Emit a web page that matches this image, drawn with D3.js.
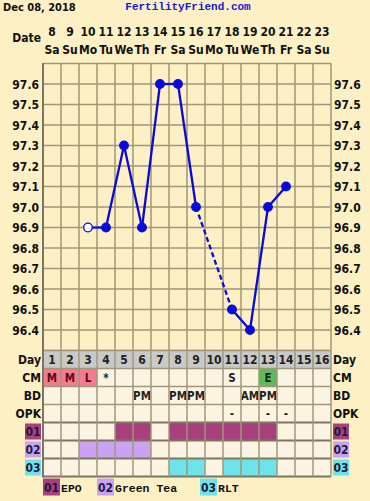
<!DOCTYPE html>
<html>
<head>
<meta charset="utf-8">
<script src="https://cdn.jsdelivr.net/npm/d3@7"></script>
<style>
  body { margin: 0; background: #fcf0c4; }
  svg { display: block; }
  text { font-family: "DejaVu Sans Condensed", "DejaVu Sans", sans-serif; font-weight: bold; }
  .mono { font-family: "Liberation Mono", "DejaVu Sans Mono", monospace; font-weight: bold; }
</style>
</head>
<body>
<div id="chart"></div>
<script>
// chart values
var chartDate = "Dec 08, 2018";
var siteName = "FertilityFriend.com";
var cycleDays = [1, 2, 3, 4, 5, 6, 7, 8, 9, 10, 11, 12, 13, 14, 15, 16];
var dates = [8, 9, 10, 11, 12, 13, 14, 15, 16, 17, 18, 19, 20, 21, 22, 23];
var weekdays = ["Sa", "Su", "Mo", "Tu", "We", "Th", "Fr", "Sa", "Su", "Mo", "Tu", "We", "Th", "Fr", "Sa", "Su"];
var temps = [null, null, 96.9, 96.9, 97.3, 96.9, 97.6, 97.6, 97.0, null, 96.5, 96.4, 97.0, 97.1, null, null];
var openDays = [3];
var tempTicks = [97.6, 97.5, 97.4, 97.3, 97.2, 97.1, 97.0, 96.9, 96.8, 96.7, 96.6, 96.5, 96.4];
var cm = ["M", "M", "L", "*", "", "", "", "", "", "", "S", "", "E", "", "", ""];
var bd = ["", "", "", "", "", "PM", "", "PM", "PM", "", "", "AM", "PM", "", "", ""];
var opk = ["", "", "", "", "", "", "", "", "", "", "-", "", "-", "-", "", ""];
var suppCodes = ["01", "02", "03"];
var suppNames = ["EPO", "Green Tea", "RLT"];
var supp01Days = [5, 6, 8, 9, 10, 11, 12, 13];
var supp02Days = [3, 4, 5, 6];
var supp03Days = [8, 9, 11, 12, 13];

var svgWidth = 370;
var svgHeight = 501;

var bg = "#fcf0c4";
var cellBg = "#fbf4e3";
var gridColor = "#a0977a";
var suppColors = ["#a8407e", "#c9a2f2", "#6ee3ea"];
var cmColors = { "M": "#f47c8e", "L": "#f47c8e", "E": "#5cbc5c" };
var fs = 12;

var svg = d3.select("#chart")
  .append("svg")
  .attr("width", svgWidth)
  .attr("height", svgHeight);

svg.append("rect")
  .attr("width", svgWidth)
  .attr("height", svgHeight)
  .attr("fill", bg);

var xScale = d3.scaleBand()
  .domain(cycleDays)
  .range([43, 331]);

var yScale = d3.scaleLinear()
  .domain([96.3, 97.7])
  .range([350.5, 63.5]);

var left = xScale.range()[0];
var right = xScale.range()[1];
var rowH = 18;
var tableTop = yScale(96.3);

// header
svg.append("text")
  .attr("x", 3)
  .attr("y", 11)
  .attr("font-size", 11)
  .attr("fill", "#111")
  .text(chartDate);

svg.append("text")
  .attr("class", "mono")
  .attr("x", 188)
  .attr("y", 10)
  .attr("text-anchor", "middle")
  .attr("font-size", 11)
  .attr("fill", "#1a1ad0")
  .text(siteName);

svg.append("text")
  .attr("x", 41)
  .attr("y", 42)
  .attr("text-anchor", "end")
  .attr("font-size", fs)
  .attr("fill", "#111")
  .text("Date");

svg.selectAll(".dateNum")
  .data(cycleDays)
  .enter()
  .append("text")
  .attr("class", "dateNum")
  .attr("x", d => xScale(d) + xScale.bandwidth() / 2)
  .attr("y", 36)
  .attr("text-anchor", "middle")
  .attr("font-size", fs)
  .attr("fill", "#111")
  .text((d, i) => dates[i]);

svg.selectAll(".wday")
  .data(cycleDays)
  .enter()
  .append("text")
  .attr("class", "wday")
  .attr("x", d => xScale(d) + xScale.bandwidth() / 2)
  .attr("y", 54)
  .attr("text-anchor", "middle")
  .attr("font-size", fs)
  .attr("fill", "#111")
  .text((d, i) => weekdays[i]);

// temperature grid
var tempGrid = svg.append("g");

tempGrid.selectAll(".hline")
  .data(d3.range(0, 15).map(i => +(96.3 + i * 0.1).toFixed(1)))
  .enter()
  .append("line")
  .attr("x1", left)
  .attr("x2", right)
  .attr("y1", d => yScale(d))
  .attr("y2", d => yScale(d))
  .attr("stroke", gridColor)
  .attr("stroke-width", 1.5);

tempGrid.selectAll(".vline")
  .data(cycleDays.slice(1))
  .enter()
  .append("line")
  .attr("x1", d => xScale(d))
  .attr("x2", d => xScale(d))
  .attr("y1", yScale(97.7))
  .attr("y2", tableTop)
  .attr("stroke", gridColor)
  .attr("stroke-width", 1.5);

tempGrid.append("line")
  .attr("x1", right)
  .attr("x2", right)
  .attr("y1", yScale(97.7))
  .attr("y2", tableTop)
  .attr("stroke", gridColor)
  .attr("stroke-width", 1.5);

svg.selectAll(".yLeft")
  .data(tempTicks)
  .enter()
  .append("text")
  .attr("x", 39)
  .attr("y", d => yScale(d) + 4.5)
  .attr("text-anchor", "end")
  .attr("font-size", fs)
  .attr("fill", "#111")
  .text(d => d.toFixed(1));

svg.selectAll(".yRight")
  .data(tempTicks)
  .enter()
  .append("text")
  .attr("x", 334)
  .attr("y", d => yScale(d) + 4.5)
  .attr("text-anchor", "start")
  .attr("font-size", fs)
  .attr("fill", "#111")
  .text(d => d.toFixed(1));

// table rows
var table = svg.append("g");
var rowLabels = ["Day", "CM", "BD", "OPK"];
var rowTexts = [cycleDays.map(String), cm, bd, opk];

rowLabels.forEach(function(label, r) {
  var y0 = tableTop + r * rowH;
  table.selectAll(".cell" + r)
    .data(cycleDays)
    .enter()
    .append("rect")
    .attr("x", d => xScale(d))
    .attr("y", y0)
    .attr("width", xScale.bandwidth())
    .attr("height", rowH)
    .attr("fill", (d, i) => {
      if (r === 0) return "#c9c9c9";
      if (r === 1 && cmColors[cm[i]]) return cmColors[cm[i]];
      return cellBg;
    });

  table.selectAll(".ctext" + r)
    .data(cycleDays)
    .enter()
    .append("text")
    .attr("x", d => xScale(d) + xScale.bandwidth() / 2)
    .attr("y", y0 + 13.5)
    .attr("text-anchor", "middle")
    .attr("font-size", r === 0 ? fs : 11.5)
    .attr("fill", (d, i) => r === 1 && (cm[i] === "M" || cm[i] === "L") ? "#5a0a1a" : "#222")
    .text((d, i) => rowTexts[r][i]);

  table.append("text")
    .attr("x", 41)
    .attr("y", y0 + 13.5)
    .attr("text-anchor", "end")
    .attr("font-size", fs)
    .attr("fill", "#111")
    .text(label);

  table.append("text")
    .attr("x", 333)
    .attr("y", y0 + 13.5)
    .attr("text-anchor", "start")
    .attr("font-size", fs)
    .attr("fill", "#111")
    .text(label);
});

// supplement rows
var suppDays = [supp01Days, supp02Days, supp03Days];
suppCodes.forEach(function(code, s) {
  var y0 = tableTop + (4 + s) * rowH;
  table.selectAll(".supp" + s)
    .data(cycleDays)
    .enter()
    .append("rect")
    .attr("x", d => xScale(d))
    .attr("y", y0)
    .attr("width", xScale.bandwidth())
    .attr("height", rowH)
    .attr("fill", d => suppDays[s].indexOf(d) >= 0 ? suppColors[s] : cellBg);

  [[25, 41], [333, 349]].forEach(function(pos) {
    table.append("rect")
      .attr("x", pos[0])
      .attr("y", y0 + 1)
      .attr("width", pos[1] - pos[0])
      .attr("height", rowH - 2)
      .attr("fill", suppColors[s]);
    table.append("text")
      .attr("x", (pos[0] + pos[1]) / 2)
      .attr("y", y0 + 13.5)
      .attr("text-anchor", "middle")
      .attr("font-size", fs)
      .attr("fill", "#1a1a40")
      .text(code);
  });
});

// table grid lines
var nRows = 7;
var tableBottom = tableTop + nRows * rowH;
table.selectAll(".th")
  .data(d3.range(0, nRows + 1))
  .enter()
  .append("line")
  .attr("x1", left)
  .attr("x2", right)
  .attr("y1", d => tableTop + d * rowH)
  .attr("y2", d => tableTop + d * rowH)
  .attr("stroke", d => d >= 4 ? "#7d7462" : gridColor)
  .attr("stroke-width", d => d >= 4 ? 2 : 1.5);

table.selectAll(".tv")
  .data(cycleDays.slice(1).concat([null]))
  .enter()
  .append("line")
  .attr("x1", d => d === null ? right : xScale(d))
  .attr("x2", d => d === null ? right : xScale(d))
  .attr("y1", tableTop)
  .attr("y2", tableBottom)
  .attr("stroke", gridColor)
  .attr("stroke-width", 1.5);

// left border
svg.append("line")
  .attr("x1", left)
  .attr("x2", left)
  .attr("y1", yScale(97.7) - 0.5)
  .attr("y2", tableBottom + 1)
  .attr("stroke", "#7d7462")
  .attr("stroke-width", 2);

// legend
var legendX = [43, 97, 200];
suppCodes.forEach(function(code, s) {
  var lx = legendX[s];
  svg.append("rect")
    .attr("x", lx)
    .attr("y", tableBottom + 2)
    .attr("width", 17)
    .attr("height", 17)
    .attr("fill", suppColors[s]);
  svg.append("text")
    .attr("x", lx + 8.5)
    .attr("y", tableBottom + 15)
    .attr("text-anchor", "middle")
    .attr("font-size", fs)
    .attr("fill", "#1a1a40")
    .text(code);
  svg.append("text")
    .attr("class", "mono")
    .attr("x", lx + 18)
    .attr("y", tableBottom + 15)
    .attr("font-size", 11.5)
    .attr("fill", "#111")
    .text(suppNames[s]);
});

// temperature line
var points = [];
temps.forEach(function(t, i) {
  if (t !== null) points.push({ day: cycleDays[i], temp: t });
});

var segments = [];
for (var i = 1; i < points.length; i++) {
  segments.push({
    a: points[i - 1],
    b: points[i],
    dashed: points[i].day - points[i - 1].day > 1
  });
}

var cx = d => xScale(d.day) + xScale.bandwidth() / 2;

svg.selectAll(".seg")
  .data(segments)
  .enter()
  .append("line")
  .attr("x1", d => cx(d.a))
  .attr("y1", d => yScale(d.a.temp))
  .attr("x2", d => cx(d.b))
  .attr("y2", d => yScale(d.b.temp))
  .attr("stroke", "#0a0ad8")
  .attr("stroke-width", 2.3)
  .attr("stroke-dasharray", d => d.dashed ? "5,3" : null);

svg.selectAll(".pt")
  .data(points)
  .enter()
  .append("circle")
  .attr("cx", cx)
  .attr("cy", d => yScale(d.temp))
  .attr("r", 4.3)
  .attr("fill", d => openDays.indexOf(d.day) >= 0 ? "#ffffff" : "#0a0ad8")
  .attr("stroke", "#0a0ad8")
  .attr("stroke-width", 1.3);
</script>
</body>
</html>
